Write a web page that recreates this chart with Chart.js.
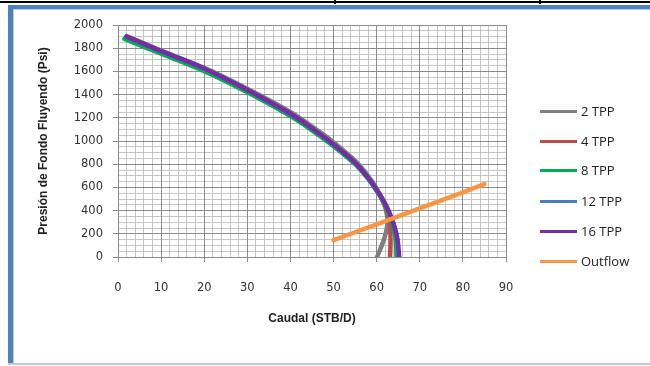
<!DOCTYPE html>
<html><head><meta charset="utf-8">
<script src="https://cdn.jsdelivr.net/npm/chart.js@4"></script>
<style>
html,body{margin:0;padding:0;background:#fff;}
#wrap{position:relative;width:650px;height:366px;overflow:hidden;}
#c{position:absolute;left:0;top:0;}
.b{position:absolute;}
#legend{position:absolute;left:540px;top:0;font-family:"Open Sans",sans-serif;font-size:13px;color:#222;}
.li{position:absolute;left:0;height:16px;white-space:nowrap;}
.li span.ln{position:absolute;left:0;top:7px;width:37px;height:3px;}
.li span.tx{position:absolute;left:41px;top:-1px;}
</style></head>
<body><div id="wrap">
<div class="b" style="left:0;top:1px;width:650px;height:2px;background:#000"></div>
<div class="b" style="left:334px;top:0;width:2px;height:4px;background:#000"></div>
<div class="b" style="left:539px;top:0;width:2px;height:4px;background:#000"></div>
<div class="b" style="left:8px;top:5px;width:642px;height:4px;background:#4f81bd"></div>
<div class="b" style="left:8px;top:9px;width:642px;height:1px;background:#b9cde5"></div>
<div class="b" style="left:8px;top:5px;width:5px;height:360px;background:#4f81bd"></div>
<div class="b" style="left:13px;top:9px;width:1px;height:355px;background:#b9cde5"></div>
<div class="b" style="left:8px;top:363px;width:642px;height:2px;background:#b9cde5"></div>
<canvas id="c" width="650" height="366"></canvas>
<div id="legend"></div>
</div>
<script>
const seriesNames = ["2 TPP","4 TPP","8 TPP","12 TPP","16 TPP","Outflow"];
const seriesColors = ["#7f7f7f","#be4b48","#00b050","#4a7ebb","#7030a0","#f79646"];

const q2  = [2,10,20,30,40,45,50,55,58,60,61.5,62.3,62.5,62.2,61.4,60.1];
const p2  = [1905,1780,1630,1450,1250,1125,990,830,700,590,480,380,300,220,120,0];
const q4  = [2,10,20,30,40,45,50,55,58,60,61.6,62.5,63,63.2,63.2,63.1];
const p4  = [1898,1772,1622,1438,1232,1108,968,808,680,575,470,385,300,200,100,0];
const q8  = [1.5,10,20,30,40,45,50,55,58,60,61.7,62.8,63.6,64.2,64.5,64.6];
const p8  = [1880,1752,1602,1420,1215,1092,955,800,675,570,465,375,290,200,110,0];
const q12 = [2,10,20,30,40,45,50,55,58,60,61.8,63,63.9,64.5,64.9,65.0];
const p12 = [1898,1772,1622,1438,1232,1108,968,810,682,578,470,375,285,195,100,0];
const q16 = [2,10,20,30,40,45,50,55,58,60,61.8,63,63.9,64.6,65.0,65.2];
const p16 = [1900,1775,1625,1440,1235,1110,970,812,685,580,472,378,288,198,102,0];
const qOut = [50,60,70,80,85];
const pOut = [145,282,420,558,628];

const xTicks = [0,10,20,30,40,50,60,70,80,90];
const yTicks = [0,200,400,600,800,1000,1200,1400,1600,1800,2000];

const allQ = [q2,q4,q8,q12,q16,qOut];
const allP = [p2,p4,p8,p12,p16,pOut];

const datasets = allQ.map((qs,i)=>({
  label: seriesNames[i],
  data: qs.map((q,j)=>({x:q,y:allP[i][j]})),
  borderColor: seriesColors[i],
  backgroundColor: seriesColors[i],
  borderWidth: 4.5,
  pointRadius: 0,
  tension: 0.35,
  borderCapStyle: 'round',
  borderJoinStyle: 'round',
  fill: false,
  order: 6 - i
}));

const tickFont = {family:"DejaVu Sans", size:11.5};
const titleFont = {family:"Liberation Sans", size:12, weight:"bold"};
const plain = v => String(v);

new Chart(document.getElementById('c'), {
  type: 'line',
  data: { datasets },
  options: {
    responsive: false,
    animation: false,
    layout: { padding: { left: 36, right: 144, top: 25, bottom: 40 } },
    plugins: { legend: { display: false }, tooltip: { enabled: false } },
    scales: {
      xm: {
        type: 'linear', position: 'bottom', min: 0, max: 90, z: -1,
        ticks: { display: false, stepSize: 2 },
        grid: { color: '#c6c6c6', lineWidth: 1, drawTicks: false },
        border: { display: false },
        afterFit: s => { s.height = 0; }
      },
      ym: {
        type: 'linear', position: 'left', min: 0, max: 2000, z: -1,
        ticks: { display: false, stepSize: 50 },
        grid: { color: '#c6c6c6', lineWidth: 1, drawTicks: false },
        border: { display: false },
        afterFit: s => { s.width = 0; }
      },
      x: {
        type: 'linear', position: 'bottom', min: 0, max: 90,
        afterBuildTicks: s => { s.ticks = xTicks.map(v=>({value:v})); },
        ticks: { font: tickFont, color: '#333', padding: 19, maxRotation: 0, callback: plain },
        grid: { color: '#8c8c8c', lineWidth: 1, tickLength: 5, tickColor: '#8c8c8c' },
        border: { color: '#8c8c8c' },
        title: { display: true, text: 'Caudal (STB/D)', font: titleFont, color: '#222', padding: 0 },
        afterFit: s => { s.height = 69; }
      },
      y: {
        type: 'linear', position: 'left', min: 0, max: 2000,
        afterBuildTicks: s => { s.ticks = yTicks.map(v=>({value:v})); },
        ticks: { font: tickFont, color: '#333', padding: 10, callback: plain },
        grid: { color: '#8c8c8c', lineWidth: 1, tickLength: 5, tickColor: '#8c8c8c' },
        border: { color: '#8c8c8c' },
        title: { display: true, text: 'Presión de Fondo Fluyendo (Psi)', font: titleFont, color: '#222', padding: 0 },
        afterFit: s => { s.width = 82; }
      }
    }
  }
});

const legendY = [103,133,162,193,223,253];
const lg = document.getElementById('legend');
seriesNames.forEach((n,i)=>{
  const d = document.createElement('div');
  d.className = 'li';
  d.style.top = legendY[i] + 'px';
  d.innerHTML = '<span class="ln" style="background:'+seriesColors[i]+'"></span><span class="tx">'+n+'</span>';
  lg.appendChild(d);
});
</script>
</body></html>
